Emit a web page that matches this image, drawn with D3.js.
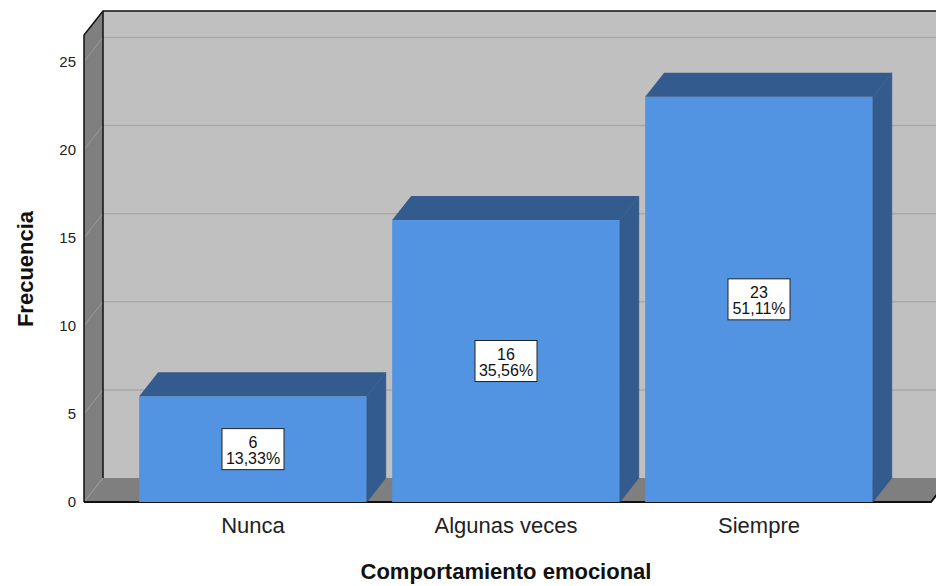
<!DOCTYPE html>
<html>
<head>
<meta charset="utf-8">
<script src="https://cdn.jsdelivr.net/npm/d3@7"></script>
<style>
  body { margin: 0; background: #fff; }
  svg { display: block; font-family: "Liberation Sans", Arial, sans-serif; }
</style>
</head>
<body>
<svg id="chart" width="936" height="586"></svg>
<script>
// Data
const categories = ['Nunca', 'Algunas veces', 'Siempre'];
const counts = [6, 16, 23];
const yTicks = [0, 5, 10, 15, 20, 25];
const xTitle = 'Comportamiento emocional';
const yTitle = 'Frecuencia';

// Layout + 3D look
const width = 936;
const height = 586;
const depthX = 19;   // how far the back plane shifts right
const depthY = -24;  // and up
const wallLeft = 84;
const floorRight = 931;
const baseY = 502;
const topY = 35;

const wallGray = '#c0c0c0';
const sideGray = '#7f7f7f';
const gridBack = '#a9a9a9';
const gridSide = '#9c9c9c';
const barFront = '#5294e2';
const barDark = '#335b8d';

const svg = d3.select('#chart');

// Scales
const yScale = d3.scaleLinear()
  .domain([0, 26.5])
  .range([baseY, topY]);

const xScale = d3.scaleBand()
  .domain(categories)
  .range([126.5, 885.5])
  .paddingInner(0.1)
  .paddingOuter(0.05);

const total = d3.sum(counts);
const esLocale = d3.formatLocale({ decimal: ',', thousands: '.', grouping: [3], currency: ['', ''] });
const pctFmt = esLocale.format('.2f');

const rows = categories.map((c, i) => ({ cat: c, n: counts[i], pct: pctFmt(counts[i] / total * 100) + '%' }));

const pts = arr => arr.map(p => p.join(',')).join(' ');

// Back wall
svg.append('rect')
  .attr('x', wallLeft + depthX)
  .attr('y', topY + depthY)
  .attr('width', width)
  .attr('height', baseY - topY)
  .attr('fill', wallGray);

// Left wall
svg.append('polygon')
  .attr('points', pts([[wallLeft, topY], [wallLeft + depthX, topY + depthY], [wallLeft + depthX, baseY + depthY], [wallLeft, baseY]]))
  .attr('fill', sideGray);

// Floor
svg.append('polygon')
  .attr('points', pts([[wallLeft, baseY], [wallLeft + depthX, baseY + depthY], [floorRight + depthX, baseY + depthY], [floorRight, baseY]]))
  .attr('fill', sideGray);

// Gridlines, back wall
svg.selectAll('line.grid-back')
  .data(yTicks.filter(t => t > 0))
  .enter()
  .append('line')
  .attr('class', 'grid-back')
  .attr('x1', wallLeft + depthX)
  .attr('x2', width)
  .attr('y1', d => yScale(d) + depthY)
  .attr('y2', d => yScale(d) + depthY)
  .attr('stroke', gridBack)
  .attr('stroke-width', 1.5);

// Gridlines, left wall
svg.selectAll('line.grid-side')
  .data(yTicks)
  .enter()
  .append('line')
  .attr('class', 'grid-side')
  .attr('x1', wallLeft)
  .attr('x2', wallLeft + depthX)
  .attr('y1', d => yScale(d))
  .attr('y2', d => yScale(d) + depthY)
  .attr('stroke', gridSide)
  .attr('stroke-width', 1);

// Frame edges
svg.append('polyline')
  .attr('points', pts([[wallLeft, baseY], [wallLeft, topY], [wallLeft + depthX, topY + depthY], [width, topY + depthY]]))
  .attr('fill', 'none')
  .attr('stroke', '#111')
  .attr('stroke-width', 1.5);

svg.append('line')
  .attr('x1', wallLeft + depthX).attr('x2', wallLeft + depthX)
  .attr('y1', topY + depthY).attr('y2', baseY + depthY)
  .attr('stroke', '#111')
  .attr('stroke-width', 1.5);

svg.append('polyline')
  .attr('points', pts([[wallLeft, baseY], [floorRight, baseY], [floorRight + depthX, baseY + depthY]]))
  .attr('fill', 'none')
  .attr('stroke', '#111')
  .attr('stroke-width', 2);

// Bars
const bars = svg.selectAll('g.bar')
  .data(rows)
  .enter()
  .append('g')
  .attr('class', 'bar');

bars.append('rect')
  .attr('x', d => xScale(d.cat))
  .attr('y', d => yScale(d.n))
  .attr('width', xScale.bandwidth())
  .attr('height', d => baseY - yScale(d.n))
  .attr('fill', barFront);

bars.append('polygon')
  .attr('points', d => {
    const x0 = xScale(d.cat), x1 = x0 + xScale.bandwidth(), yt = yScale(d.n);
    return pts([[x0, yt], [x0 + depthX, yt + depthY], [x1 + depthX, yt + depthY], [x1, yt]]);
  })
  .attr('fill', barDark);

bars.append('polygon')
  .attr('points', d => {
    const x1 = xScale(d.cat) + xScale.bandwidth(), yt = yScale(d.n);
    return pts([[x1, yt], [x1 + depthX, yt + depthY], [x1 + depthX, baseY + depthY], [x1, baseY]]);
  })
  .attr('fill', barDark)
  .attr('stroke', '#2f5584')
  .attr('stroke-width', 0.5);

// Value labels
const lab = bars.append('g')
  .attr('transform', d => `translate(${xScale(d.cat) + xScale.bandwidth() / 2}, ${(yScale(d.n) + baseY) / 2})`);

lab.append('rect')
  .attr('x', -31)
  .attr('y', -20.5)
  .attr('width', 62)
  .attr('height', 41)
  .attr('fill', '#fff')
  .attr('stroke', '#222')
  .attr('stroke-width', 1);

lab.append('text')
  .attr('text-anchor', 'middle')
  .attr('y', -1)
  .attr('font-size', 16)
  .attr('fill', '#111')
  .text(d => d.n);

lab.append('text')
  .attr('text-anchor', 'middle')
  .attr('y', 15)
  .attr('font-size', 16)
  .attr('fill', '#111')
  .text(d => d.pct);

// Y axis labels
const yAxis = d3.axisLeft(yScale)
  .tickValues(yTicks)
  .tickSize(0)
  .tickPadding(8);

const yAxisGroup = svg.append('g')
  .attr('transform', `translate(${wallLeft}, 0)`)
  .call(yAxis);

yAxisGroup.select('.domain').remove();
yAxisGroup.selectAll('text')
  .attr('font-size', 15)
  .attr('font-family', '"Liberation Sans", Arial, sans-serif')
  .attr('fill', '#222');

// X axis labels
const xAxis = d3.axisBottom(xScale)
  .tickSize(0)
  .tickPadding(15);

const xAxisGroup = svg.append('g')
  .attr('transform', `translate(0, ${baseY})`)
  .call(xAxis);

xAxisGroup.select('.domain').remove();
xAxisGroup.selectAll('text')
  .attr('font-size', 22)
  .attr('font-family', '"Liberation Sans", Arial, sans-serif')
  .attr('fill', '#222');

// Axis titles
svg.append('text')
  .attr('x', 506)
  .attr('y', 579)
  .attr('text-anchor', 'middle')
  .attr('font-size', 22)
  .attr('font-weight', 'bold')
  .attr('fill', '#111')
  .text(xTitle);

svg.append('text')
  .attr('transform', 'rotate(-90)')
  .attr('x', -269)
  .attr('y', 33)
  .attr('text-anchor', 'middle')
  .attr('font-size', 22)
  .attr('font-weight', 'bold')
  .attr('fill', '#111')
  .text(yTitle);
</script>
</body>
</html>
